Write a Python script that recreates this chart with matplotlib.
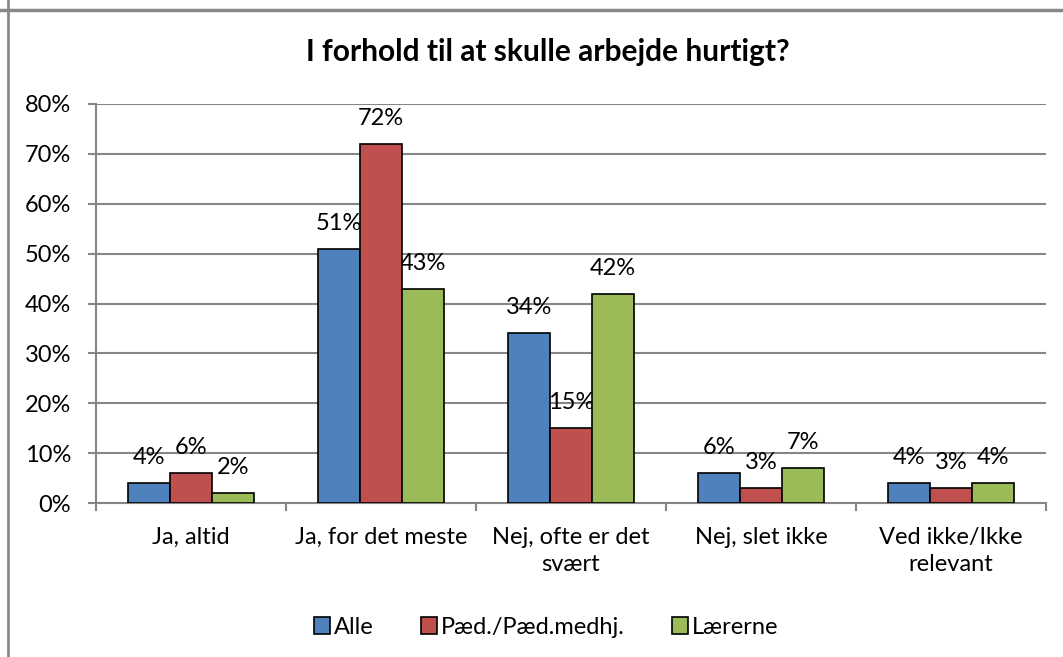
import matplotlib
matplotlib.use("Agg")
import matplotlib.pyplot as plt
from matplotlib.patches import Patch
from matplotlib.lines import Line2D
import numpy as np

plt.rcParams['font.family'] = ['Lato', 'DejaVu Sans']

categories = ["Ja, altid", "Ja, for det meste", "Nej, ofte er det\nsvært", "Nej, slet ikke", "Ved ikke/Ikke\nrelevant"]
series_names = ["Alle", "Pæd./Pæd.medhj.", "Lærerne"]
alle = [4, 51, 34, 6, 4]
paed = [6, 72, 15, 3, 3]
laererne = [2, 43, 42, 7, 4]
title = "I forhold til at skulle arbejde hurtigt?"
yticks = [0, 10, 20, 30, 40, 50, 60, 70, 80]

colors = ["#4F81BD", "#C0504D", "#9BBB59"]
grid_c = "#868686"
FS = 17

fig = plt.figure(figsize=(10.63, 6.57), dpi=100)
ax = fig.add_axes([96/1063, 1-503/657, (1046-96)/1063, (503-104)/657])

x = np.arange(len(categories))
w = 0.222
for i, (vals, c, name) in enumerate(zip([alle, paed, laererne], colors, series_names)):
    pos = x + (i - 1) * w
    ax.bar(pos, vals, width=w, color=c, edgecolor="black", linewidth=1.2, zorder=3, label=name)
    for p, v in zip(pos, vals):
        ax.annotate(f"{v}%", (p, v), xytext=(0, 19), textcoords="offset pixels",
                    ha="center", va="baseline", fontsize=FS, zorder=2.5)

ax.set_xlim(-0.5, len(categories) - 0.5)
ax.set_ylim(0, 80)
ax.set_yticks(yticks)
ax.set_yticklabels([f"{t}%" for t in yticks], fontsize=FS)
ax.yaxis.grid(True, color=grid_c, linewidth=1.5, zorder=0)
ax.set_axisbelow(True)

ax.set_xticks(np.arange(len(categories) + 1) - 0.5)
ax.set_xticklabels([])
ax.set_xticks(x, minor=True)
ax.set_xticklabels(categories, minor=True, fontsize=FS, linespacing=1.4)
ax.tick_params(axis="x", which="minor", length=0, pad=17)
ax.tick_params(axis="x", which="major", length=6, width=1.5, color=grid_c, direction="out")
ax.tick_params(axis="y", length=6, width=1.5, color=grid_c, direction="out", pad=12)

for s in ["top", "right"]:
    ax.spines[s].set_visible(False)
for s in ["left", "bottom"]:
    ax.spines[s].set_color(grid_c)
    ax.spines[s].set_linewidth(1.5)

fig.text(548/1063, 1-52/657, title, ha="center", va="center", fontsize=21.5, fontweight="bold")

handles = [Patch(facecolor=c, edgecolor="black", linewidth=1.2) for c in colors]
fig.legend(handles, series_names, loc="center", bbox_to_anchor=(546/1063, 1-627/657),
           ncol=3, frameon=False, fontsize=FS, handlelength=0.7, handleheight=0.7,
           handletextpad=0.15, columnspacing=2.0)

# outer chart border
fig.add_artist(Line2D([0, 1], [1-10/657, 1-10/657], transform=fig.transFigure, color="#898989", linewidth=2.5))
fig.add_artist(Line2D([8/1063, 8/1063], [0, 1], transform=fig.transFigure, color="#898989", linewidth=2))

fig.savefig("out.png", dpi=100)
